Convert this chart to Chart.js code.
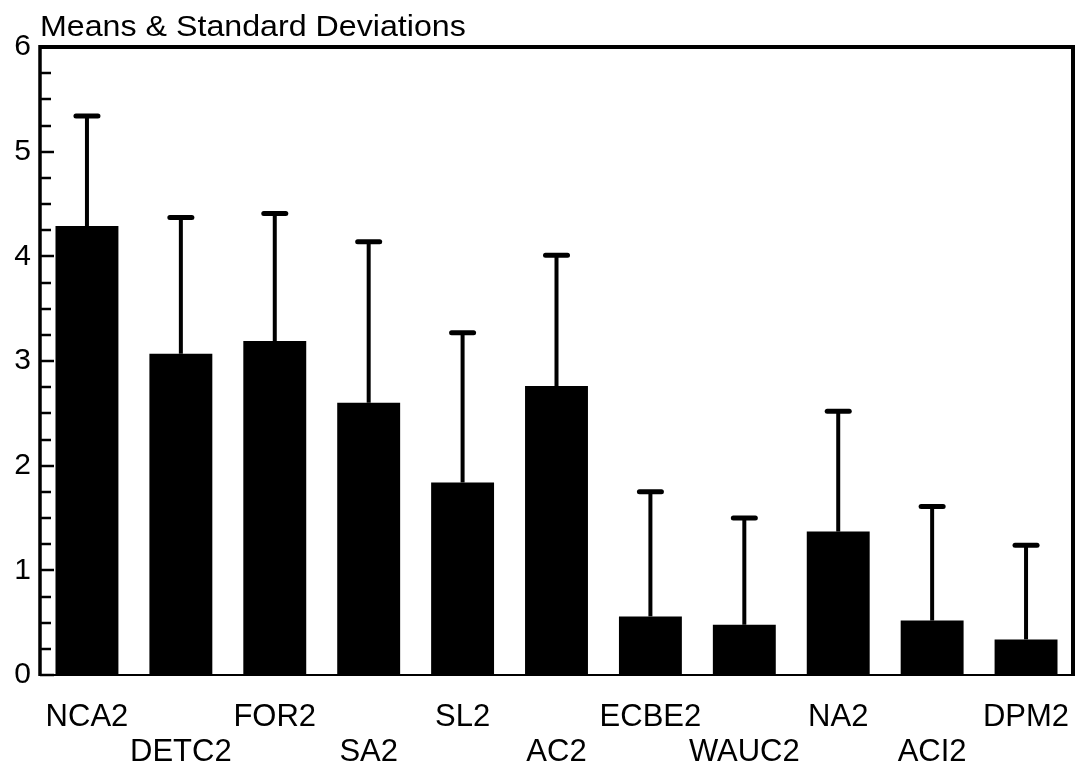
<!DOCTYPE html>
<html>
<head>
<meta charset="utf-8">
<script src="https://cdn.jsdelivr.net/npm/chart.js@4.4.1/dist/chart.umd.min.js"></script>
<style>
  html, body { margin: 0; padding: 0; background: #fff; }
  #wrap { position: relative; width: 1080px; height: 765px; }
  #title {
    position: absolute; left: 40px; top: 12px;
    font-family: "Liberation Sans", Arial, sans-serif;
    font-size: 29px; line-height: 29px; color: #000;
    transform: scaleX(1.11); transform-origin: left top;
    white-space: nowrap;
  }
</style>
</head>
<body>
<div id="wrap">
  <div id="title">Means &amp; Standard Deviations</div>
  <canvas id="chart" width="1080" height="765"></canvas>
</div>
<script>
// ============================================================
// DATA
// ============================================================

const categories = ["NCA2","DETC2","FOR2","SA2","SL2","AC2","ECBE2","WAUC2","NA2","ACI2","DPM2"];
const means      = [4.29, 3.07, 3.19, 2.60, 1.84, 2.76, 0.56, 0.48, 1.37, 0.52, 0.34];
const stdDevs    = [1.05, 1.30, 1.22, 1.54, 1.43, 1.25, 1.19, 1.02, 1.15, 1.09, 0.90];
const yTicks     = [0, 1, 2, 3, 4, 5, 6];


// ============================================================
// PLUGINS
// ============================================================

// upward-only error bars with flat caps
const errorBars = {
  id: "errorBars",
  afterDatasetsDraw(chart) {
    const { ctx, scales: { x, y } } = chart;
    ctx.save();
    ctx.strokeStyle = "#000";
    means.forEach((m, i) => {
      const cx   = x.getPixelForValue(i);
      const yTop = y.getPixelForValue(m + stdDevs[i]);
      const yBar = y.getPixelForValue(m);
      ctx.lineWidth = 4;
      ctx.lineCap = "butt";
      ctx.beginPath();
      ctx.moveTo(cx, yBar);
      ctx.lineTo(cx, yTop);
      ctx.stroke();
      ctx.lineWidth = 5;
      ctx.lineCap = "round";
      ctx.beginPath();
      ctx.moveTo(cx - 11, yTop);
      ctx.lineTo(cx + 11, yTop);
      ctx.stroke();
    });
    ctx.restore();
  }
};

// frame plus inward ticks on the left axis
const frame = {
  id: "frame",
  afterDraw(chart) {
    const { ctx, chartArea: a, scales: { y } } = chart;
    ctx.save();
    ctx.strokeStyle = "#000";
    ctx.lineCap = "butt";

    ctx.lineWidth = 2;
    ctx.beginPath(); ctx.moveTo(a.left, a.bottom); ctx.lineTo(a.right, a.bottom); ctx.stroke();
    ctx.lineWidth = 4;
    ctx.beginPath(); ctx.moveTo(a.left - 1, a.top); ctx.lineTo(a.right + 2, a.top); ctx.stroke();
    ctx.beginPath(); ctx.moveTo(a.right, a.top); ctx.lineTo(a.right, a.bottom + 1); ctx.stroke();
    ctx.lineWidth = 3.5;
    ctx.beginPath(); ctx.moveTo(a.left, a.top - 2); ctx.lineTo(a.left, a.bottom + 1); ctx.stroke();

    ctx.lineWidth = 2.5;
    for (let v = y.min; v <= y.max + 1e-9; v += 0.25) {
      const py  = Math.round(y.getPixelForValue(v));
      const len = Number.isInteger(v) ? 14 : 11;
      ctx.beginPath();
      ctx.moveTo(a.left, py);
      ctx.lineTo(a.left + len, py);
      ctx.stroke();
    }
    ctx.restore();
  }
};


// ============================================================
// CHART
// ============================================================

const FONT = "'Liberation Sans', Arial, sans-serif";

new Chart(document.getElementById("chart"), {
  type: "bar",
  data: {
    labels: categories,
    datasets: [{
      data: means,
      backgroundColor: "#000",
      borderWidth: 0,
      barPercentage: 0.67,
      categoryPercentage: 1.0
    }]
  },
  options: {
    responsive: false,
    animation: false,
    layout: { padding: { top: 47, right: 7, bottom: 0, left: 0 } },
    plugins: {
      legend:  { display: false },
      tooltip: { enabled: false }
    },
    scales: {
      x: {
        grid:   { display: false, drawTicks: false },
        border: { display: false },
        ticks: {
          color: "#000",
          padding: 25,
          maxRotation: 0,
          autoSkip: false,
          font: { family: FONT, size: 31, lineHeight: 1.13 },
          callback: (v, i) => i % 2 === 0 ? categories[i] : ["", categories[i]]
        },
        afterFit: s => { s.height = 90; s.paddingLeft = 0; s.paddingRight = 0; }
      },
      y: {
        min: yTicks[0],
        max: yTicks[yTicks.length - 1],
        grid:   { display: false, drawTicks: false },
        border: { display: false },
        ticks: {
          color: "#000",
          stepSize: 1,
          padding: 9,
          font: { family: FONT, size: 30 }
        },
        afterFit: s => { s.width = 40; }
      }
    }
  },
  plugins: [errorBars, frame]
});
</script>
</body>
</html>
